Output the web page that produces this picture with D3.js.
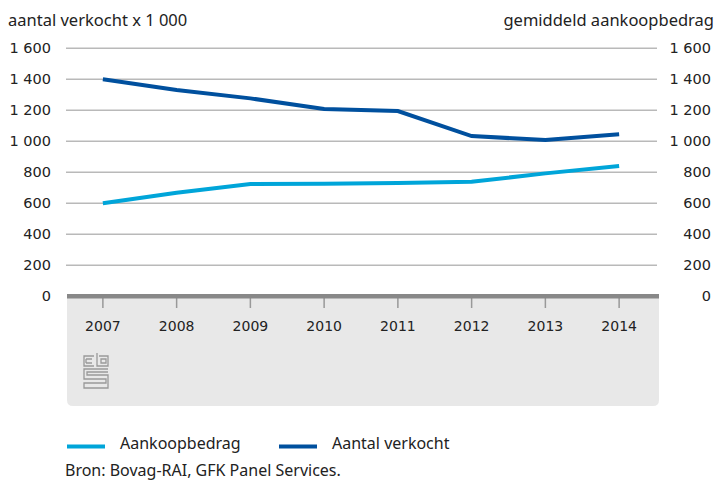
<!DOCTYPE html>
<html>
<head>
<meta charset="utf-8">
<script src="https://cdn.jsdelivr.net/npm/d3@7"></script>
<style>
  body { margin: 0; background: #fff; }
  text { fill: #222; }
</style>
</head>
<body>
<div class="canvas"></div>
<script>
const w = 716;
const h = 481;

// data
const years = ["2007", "2008", "2009", "2010", "2011", "2012", "2013", "2014"];
const aankoopbedrag = [600, 668, 724, 726, 731, 739, 793, 841];
const aantalVerkocht = [1400, 1331, 1277, 1208, 1195, 1034, 1008, 1046];
const yTicks = [0, 200, 400, 600, 800, 1000, 1200, 1400, 1600];

const lightBlue = "#00a5d9";
const darkBlue = "#00509e";
const labelFont = "'DejaVu Sans', sans-serif";
const textFont = "'Noto Sans', sans-serif";

const svg = d3.select(".canvas").append("svg").attr("width", w).attr("height", h);

// scales
const xScale = d3.scaleBand().domain(years).range([66, 656]);
const yScale = d3.scaleLinear().domain([0, 1600]).range([296.3, 48.3]);
const fmt = (v) => d3.format(",")(v).replace(/,/g, " ");

// grey box under axis (rounded bottom corners)
const bx0 = 67, bx1 = 659, by0 = 296, by1 = 406, r = 6;
svg
  .append("path")
  .attr("d", `M${bx0},${by0}H${bx1}V${by1 - r}Q${bx1},${by1} ${bx1 - r},${by1}H${bx0 + r}Q${bx0},${by1} ${bx0},${by1 - r}Z`)
  .attr("fill", "#e8e8e8");

// gridlines
svg
  .append("g")
  .selectAll("line")
  .data(yTicks.filter((d) => d > 0))
  .enter()
  .append("line")
  .attr("x1", 66)
  .attr("x2", 657)
  .attr("y1", (d) => yScale(d))
  .attr("y2", (d) => yScale(d))
  .attr("stroke", "#b9b9b9")
  .attr("stroke-width", 1.5);

// left and right axes (labels only)
const yLeft = d3.axisLeft(yScale).tickValues(yTicks).tickFormat(fmt).tickSize(0).tickPadding(0);
const yRight = d3.axisRight(yScale).tickValues(yTicks).tickFormat(fmt).tickSize(0).tickPadding(0);

const gl = svg.append("g").attr("transform", "translate(51,0)").call(yLeft);
const gr = svg.append("g").attr("transform", "translate(711,0)").call(yRight);
gr.selectAll("text").attr("text-anchor", "end");
[gl, gr].forEach((g) => {
  g.select(".domain").remove();
  g.selectAll("text").style("font-family", labelFont).style("font-size", "14.5px").attr("fill", "#222");
});

// x axis
const xAxis = d3.axisBottom(xScale).tickSize(10).tickPadding(13);
const gx = svg.append("g").attr("transform", "translate(0,298)").call(xAxis);
gx.select(".domain").remove();
gx.selectAll("line").attr("stroke", "#999").attr("stroke-width", 1.5);
gx.selectAll("text").style("font-family", labelFont).style("font-size", "14px").attr("fill", "#222");

// thick baseline
svg
  .append("line")
  .attr("x1", 67)
  .attr("x2", 659)
  .attr("y1", yScale(0))
  .attr("y2", yScale(0))
  .attr("stroke", "#888")
  .attr("stroke-width", 4.5);

// lines
const line = d3
  .line()
  .x((d, i) => xScale(years[i]) + xScale.bandwidth() / 2)
  .y((d) => yScale(d));

svg.append("path").attr("d", line(aankoopbedrag)).attr("fill", "none").attr("stroke", lightBlue).attr("stroke-width", 4);
svg.append("path").attr("d", line(aantalVerkocht)).attr("fill", "none").attr("stroke", darkBlue).attr("stroke-width", 4);

// axis titles
svg
  .append("text")
  .attr("x", 8)
  .attr("y", 26)
  .text("aantal verkocht x 1 000")
  .style("font-family", textFont)
  .style("font-size", "16.5px");

svg
  .append("text")
  .attr("x", 714)
  .attr("y", 26)
  .attr("text-anchor", "end")
  .text("gemiddeld aankoopbedrag")
  .style("font-family", textFont)
  .style("font-size", "16.5px");

// cbs logo
const logo = svg.append("g").attr("transform", "translate(83,353)").attr("fill", "none").attr("stroke", "#999").attr("stroke-width", 1.3);
logo.append("path").attr("d", "M11,3H1V13H11 M3,6H9 M3,10H9 M3,6V10");
logo.append("path").attr("d", "M14,0V13H25V3H16 M18,6H23V10H18Z");
logo.append("path").attr("d", "M25,16H1V26H23V30H1V35H25V22H4V19H25");

// legend
const legend = [
  { name: "Aankoopbedrag", color: lightBlue, x: 67 },
  { name: "Aantal verkocht", color: darkBlue, x: 279 },
];
const lg = svg.selectAll(".legend").data(legend).enter().append("g").attr("class", "legend");
lg.append("line")
  .attr("x1", (d) => d.x)
  .attr("x2", (d) => d.x + 38)
  .attr("y1", 446.5)
  .attr("y2", 446.5)
  .attr("stroke", (d) => d.color)
  .attr("stroke-width", 4);
lg.append("text")
  .attr("x", (d) => d.x + 53)
  .attr("y", 449)
  .text((d) => d.name)
  .style("font-family", textFont)
  .style("font-size", "16px");

svg
  .append("text")
  .attr("x", 65)
  .attr("y", 476)
  .text("Bron: Bovag-RAI, GFK Panel Services.")
  .style("font-family", textFont)
  .style("font-size", "16px");
</script>
</body>
</html>
